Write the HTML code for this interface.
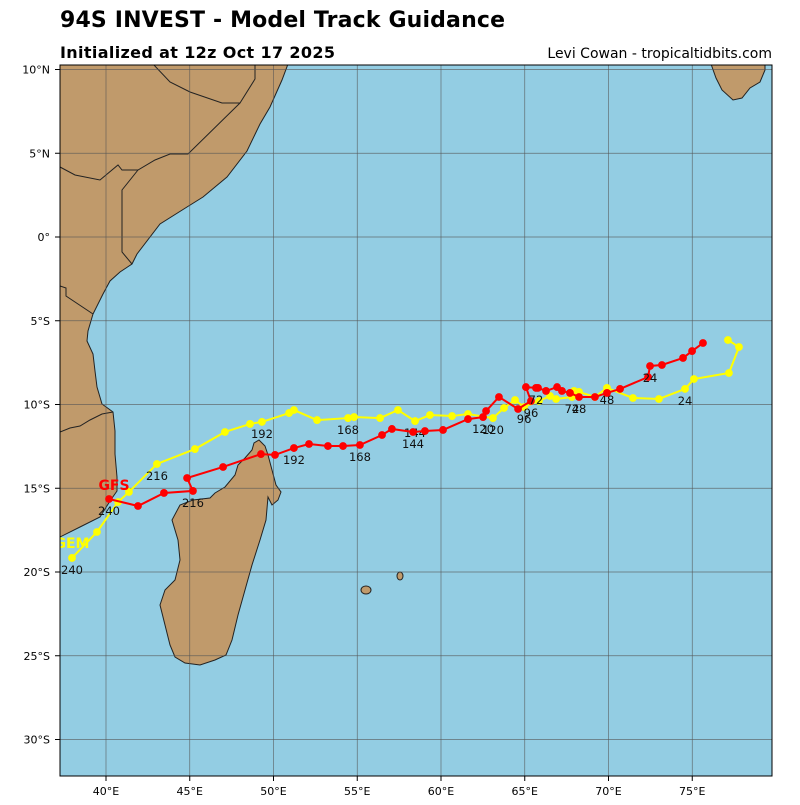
<!DOCTYPE html>
<html><head><meta charset="utf-8"><style>
body{margin:0;background:#fff;width:800px;height:800px;overflow:hidden;font-family:"Liberation Sans","DejaVu Sans",sans-serif}
</style></head><body>
<svg id="chart" width="800" height="800" xmlns="http://www.w3.org/2000/svg" font-family="DejaVu Sans, Liberation Sans, sans-serif">
<text x="60" y="27" font-size="22" font-weight="bold" textLength="445">94S INVEST - Model Track Guidance</text>
<text x="60" y="58" font-size="16" font-weight="bold" textLength="275">Initialized at 12z Oct 17 2025</text>
<text x="772" y="58" font-size="14" text-anchor="end">Levi Cowan - tropicaltidbits.com</text>
<defs><clipPath id="mapclip"><rect x="60" y="65" width="712" height="711"/></clipPath></defs>
<rect x="60" y="65" width="712" height="711" fill="#93cde3"/>
<g clip-path="url(#mapclip)" id="mapg">
<polygon fill="#c09a6b" stroke="#222" stroke-width="1" points="60,64 288,64 282,80 270,107 260,124 247,151 227,177 203,197 187,207 160,224 137,254 132,264 120,272 110,281 103,294 93,314 88,331 87,341 93,354 95,371 97,387 102,404 113,412 115,431 115,454 117,477 117,491 110,501 100,517 80,527 60,537"/>
<polygon fill="#c09a6b" stroke="#222" stroke-width="1" points="259,440 265,446 268,455 272,470 276,485 281,492 278,500 272,505 268,497 266,520 260,540 252,565 245,590 238,615 232,640 226,655 215,660 200,665 185,663 175,657 170,645 165,625 160,605 165,590 175,580 180,560 178,540 172,520 180,505 193,500 210,498 215,493 225,487 235,475 238,465 245,458 252,450 254,443"/>
<polygon fill="#c09a6b" stroke="#222" stroke-width="1" points="711,64 716,78 722,90 733,100 742,98 750,88 760,82 765,70 765,64"/>
<polyline fill="none" stroke="#222" stroke-width="1" points="153,64 170,82 190,92 222,103 240,103 255,79 255,64"/>
<polyline fill="none" stroke="#222" stroke-width="1" points="240,103 188,154 170,154 155,160 138,170 122,170 118,165 100,180 75,175 60,167"/>
<polyline fill="none" stroke="#222" stroke-width="1" points="138,170 122,190 122,252 132,264"/>
<polyline fill="none" stroke="#222" stroke-width="1" points="60,286 66,288 66,296 93,314"/>
<polyline fill="none" stroke="#222" stroke-width="1" points="60,432 70,428 80,426 90,420 102,414 113,412"/>
<ellipse cx="366" cy="590" rx="5" ry="4" fill="#c09a6b" stroke="#222"/>
<ellipse cx="400" cy="576" rx="3" ry="4" fill="#c09a6b" stroke="#222"/>
<g id="grid"></g>
<g id="tracks"></g>
</g>
<rect x="60" y="65" width="712" height="711" fill="none" stroke="#000" stroke-width="1"/>
<g id="axes"></g>
</svg>
<script>
const lonTicks=[40,45,50,55,60,65,70,75];
const latTicks=[10,5,0,-5,-10,-15,-20,-25,-30];
const gfsLon=[75.64,74.99,74.45,73.19,72.48,72.36,70.69,69.91,69.19,68.24,67.70,67.22,66.93,66.27,65.79,65.67,65.07,65.37,64.60,63.46,62.69,62.51,61.61,60.12,59.04,58.33,57.07,56.48,55.16,54.15,53.25,52.12,51.22,50.09,49.25,46.99,44.84,45.19,43.46,41.91,40.18];
const gfsLat=[-6.33,-6.81,-7.22,-7.64,-7.70,-8.36,-9.07,-9.31,-9.55,-9.55,-9.31,-9.19,-8.96,-9.19,-9.01,-9.01,-8.96,-9.79,-10.27,-9.55,-10.39,-10.75,-10.87,-11.52,-11.58,-11.64,-11.46,-11.82,-12.42,-12.48,-12.48,-12.36,-12.60,-13.01,-12.96,-13.73,-14.39,-15.16,-15.28,-16.06,-15.64];
const gfsLabelIdx=[4,9,15,17,21,25,28,32,37,40];
const gfsLabelText=["24","48","72","96","120","144","168","192","216","240"];
const gemLon=[77.13,77.79,77.19,75.10,74.57,73.01,71.46,69.91,69.19,68.24,67.94,67.82,66.87,66.51,65.85,64.96,64.42,63.76,63.10,61.61,60.66,59.34,58.45,57.43,56.36,54.81,54.45,52.60,51.22,50.93,49.31,48.60,47.10,45.31,43.04,41.37,40.72,39.46,37.97];
const gemLat=[-6.15,-6.57,-8.12,-8.48,-9.07,-9.67,-9.61,-9.01,-9.55,-9.25,-9.19,-9.55,-9.67,-9.49,-9.79,-10.15,-9.73,-10.21,-10.81,-10.57,-10.69,-10.63,-10.99,-10.33,-10.81,-10.75,-10.81,-10.93,-10.33,-10.51,-11.04,-11.16,-11.64,-12.66,-13.55,-15.22,-15.82,-17.61,-19.16];
const gemLabelIdx=[4,7,11,15,18,22,26,30,34,38];
const gemLabelText=["24","48","72","96","120","144","168","192","216","240"];
const X=lon=>106+(lon-40)*16.75;
const Y=lat=>237-lat*16.75;
const NS="http://www.w3.org/2000/svg";
function mk(tag,attrs,parent){const e=document.createElementNS(NS,tag);for(const k in attrs)e.setAttribute(k,attrs[k]);parent.appendChild(e);return e;}
const grid=document.getElementById('grid'),axes=document.getElementById('axes'),tracks=document.getElementById('tracks');
lonTicks.forEach(v=>{
 const l=mk('line',{x1:X(v),x2:X(v),y1:65,y2:776,stroke:'#555','stroke-width':0.7,'stroke-opacity':0.8},grid);
 
 
 const t=mk('line',{x1:X(v),x2:X(v),y1:776,y2:781,stroke:'#000'},axes);
 
 
 const tx=mk('text',{x:X(v),y:795,'font-size':11,'text-anchor':'middle'},axes);
 tx.textContent=v+'°E';
 
 
});
latTicks.forEach(v=>{
 const l=mk('line',{x1:60,x2:772,y1:Y(v),y2:Y(v),stroke:'#555','stroke-width':0.7,'stroke-opacity':0.8},grid);
 
 
 const t=mk('line',{x1:55,x2:60,y1:Y(v),y2:Y(v),stroke:'#000'},axes);
 
 
 const tx=mk('text',{x:50,y:Y(v)+4,'font-size':11,'text-anchor':'end'},axes);
 tx.textContent=v===0?'0°':Math.abs(v)+'°'+(v>0?'N':'S');
 
 
});
function drawTrack(lons,lats,color,name,idx,txt){
 const pts=lons.map((lo,i)=>X(lo)+','+Y(lats[i])).join(' ');
 const pl=mk('polyline',{points:pts,fill:'none',stroke:color,'stroke-width':2},tracks);
 
 
 lons.forEach((lo,i)=>{
  const c=mk('circle',{cx:X(lo),cy:Y(lats[i]),r:3.9,fill:color},tracks);
  
  
 });
 idx.forEach((k,j)=>{
  const t=mk('text',{x:X(lons[k]),y:Y(lats[k])+16,'font-size':11.5,'text-anchor':'middle',fill:'#111'},tracks);
  t.textContent=txt[j];
  
  
 });
}
drawTrack(gemLon,gemLat,'#ffff00','gem',gemLabelIdx,gemLabelText);
drawTrack(gfsLon,gfsLat,'#ff0000','gfs',gfsLabelIdx,gfsLabelText);
const g1=mk('text',{x:X(gfsLon[40])+5,y:Y(gfsLat[40])-9,'font-size':14,'font-weight':'bold',fill:'#ff0000','text-anchor':'middle'},tracks);
g1.textContent='GFS';


const g2=mk('text',{x:X(gemLon[38]),y:Y(gemLat[38])-10,'font-size':14,'font-weight':'bold',fill:'#ffff00','text-anchor':'middle'},tracks);
g2.textContent='GEM';


</script>
</body></html>
